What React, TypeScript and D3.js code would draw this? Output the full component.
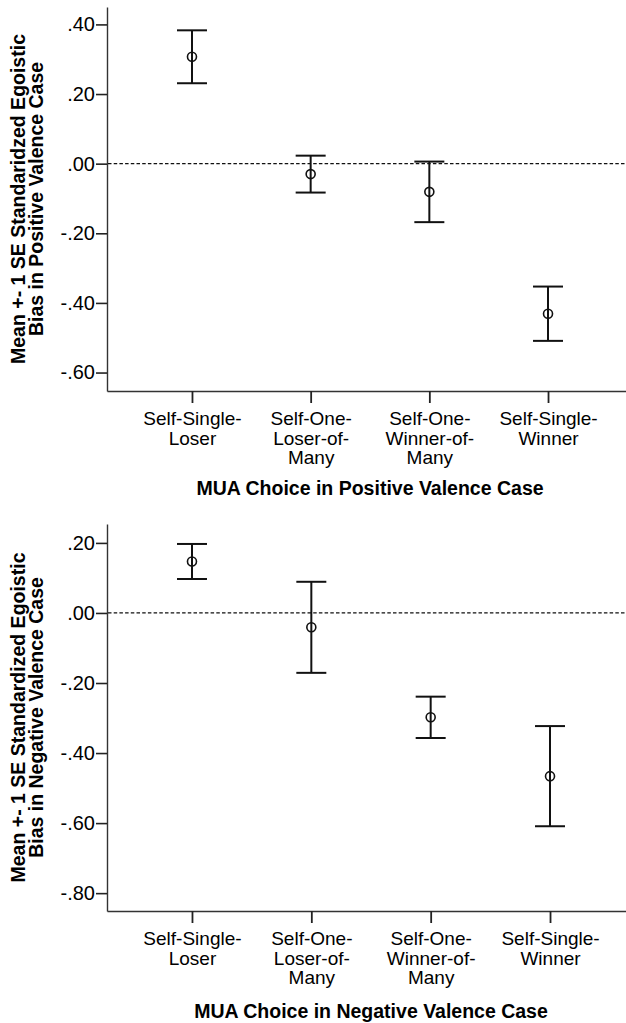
import React, { useEffect, useRef } from "react";
import * as d3 from "d3";

// categories on the x axis (same for both panels)
const categories = [
  "Self-Single-Loser",
  "Self-One-Loser-of-Many",
  "Self-One-Winner-of-Many",
  "Self-Single-Winner",
];
const categoryLines = [
  ["Self-Single-", "Loser"],
  ["Self-One-", "Loser-of-", "Many"],
  ["Self-One-", "Winner-of-", "Many"],
  ["Self-Single-", "Winner"],
];

// positive valence panel
const positiveMeans = [0.307, -0.03, -0.081, -0.431];
const positiveSE = [0.076, 0.053, 0.087, 0.078];
const positiveTicks = [0.4, 0.2, 0, -0.2, -0.4, -0.6];
const positiveYTitle = ["Mean +- 1 SE Standaridzed Egoistic", "Bias in Positive Valence Case"];
const positiveXTitle = "MUA Choice in Positive Valence Case";

// negative valence panel
const negativeMeans = [0.147, -0.041, -0.298, -0.466];
const negativeSE = [0.05, 0.13, 0.059, 0.143];
const negativeTicks = [0.2, 0, -0.2, -0.4, -0.6, -0.8];
const negativeYTitle = ["Mean +- 1 SE Standardized Egoistic", "Bias in Negative Valence Case"];
const negativeXTitle = "MUA Choice in Negative Valence Case";

const FONT = "'Liberation Sans', Arial, sans-serif";

// ".40", "-.20", ".00"
const fmt = (v) => {
  const s = d3.format(".2f")(Math.abs(v)).replace(/^0/, "");
  return (v < -1e-9 ? "-" : "") + s;
};

const drawPanel = (svg, p) => {
  const g = svg.append("g");

  const y = d3.scaleLinear().domain(p.domain).range([p.bottom, p.top]);
  const x = d3.scalePoint().domain(categories).range([p.left, p.right]).padding(p.pad);

  // y axis
  const yAxis = g
    .append("g")
    .attr("transform", `translate(${p.left},0)`)
    .call(d3.axisLeft(y).tickValues(p.ticks).tickSize(11).tickSizeOuter(0).tickPadding(1).tickFormat(fmt));
  yAxis.select(".domain").attr("stroke", "#333").attr("stroke-width", 1.4);
  yAxis.selectAll(".tick line").attr("stroke", "#222").attr("stroke-width", 1.6);
  yAxis
    .selectAll(".tick text")
    .attr("font-family", FONT)
    .attr("font-size", 20)
    .attr("fill", "#000");

  // x axis
  const xAxis = g
    .append("g")
    .attr("transform", `translate(0,${p.bottom})`)
    .call(d3.axisBottom(x).tickSize(12).tickSizeOuter(0).tickFormat(() => ""));
  xAxis.select(".domain").attr("stroke", "#333").attr("stroke-width", 1.4);
  xAxis.selectAll(".tick line").attr("stroke", "#222").attr("stroke-width", 1.8);
  xAxis
    .selectAll(".tick")
    .append("text")
    .attr("font-family", FONT)
    .attr("font-size", 19)
    .attr("fill", "#000")
    .attr("text-anchor", "middle")
    .each(function (d, i) {
      const t = d3.select(this);
      categoryLines[i].forEach((line, j) => {
        t.append("tspan").attr("x", 0).attr("y", 34 + j * 19.5).text(line);
      });
    });

  // reference line at zero
  g.append("line")
    .attr("x1", p.left + 1)
    .attr("x2", p.right)
    .attr("y1", y(0))
    .attr("y2", y(0))
    .attr("stroke", "#111")
    .attr("stroke-width", 1.3)
    .attr("stroke-dasharray", "3.5,2.2");

  // error bars
  const bars = g
    .selectAll(".bar")
    .data(p.means.map((m, i) => ({ c: categories[i], m, se: p.se[i] })))
    .join("g")
    .attr("class", "bar")
    .attr("stroke", "#111")
    .attr("fill", "none");
  bars
    .append("line")
    .attr("x1", (d) => x(d.c))
    .attr("x2", (d) => x(d.c))
    .attr("y1", (d) => y(d.m + d.se))
    .attr("y2", (d) => y(d.m - d.se))
    .attr("stroke-width", 2);
  [1, -1].forEach((s) => {
    bars
      .append("line")
      .attr("x1", (d) => x(d.c) - 15)
      .attr("x2", (d) => x(d.c) + 15)
      .attr("y1", (d) => y(d.m + s * d.se))
      .attr("y2", (d) => y(d.m + s * d.se))
      .attr("stroke-width", 2);
  });
  bars
    .append("circle")
    .attr("cx", (d) => x(d.c))
    .attr("cy", (d) => y(d.m))
    .attr("r", 4.5)
    .attr("stroke-width", 1.6);

  // axis titles
  const midY = (p.top + p.bottom) / 2;
  p.yTitle.forEach((line, j) => {
    g.append("text")
      .attr("transform", `translate(${25 + j * 18},${midY}) rotate(-90)`)
      .attr("text-anchor", "middle")
      .attr("font-family", FONT)
      .attr("font-weight", "bold")
      .attr("font-size", 19.5)
      .attr("fill", "#000")
      .text(line);
  });
  g.append("text")
    .attr("x", (p.left + p.right) / 2)
    .attr("y", p.bottom + p.titleGap)
    .attr("text-anchor", "middle")
    .attr("font-family", FONT)
    .attr("font-weight", "bold")
    .attr("font-size", 19.5)
    .attr("fill", "#000")
    .text(p.xTitle);
};

const App = () => {
  const svgRef = useRef(null);

  useEffect(() => {
    const svg = d3.select(svgRef.current);
    svg.selectAll("*").remove();
    drawPanel(svg, {
      top: 7,
      bottom: 391,
      left: 107,
      right: 633,
      pad: 0.716,
      domain: [-0.653, 0.45],
      means: positiveMeans,
      se: positiveSE,
      ticks: positiveTicks,
      yTitle: positiveYTitle,
      xTitle: positiveXTitle,
      titleGap: 104,
    });
    drawPanel(svg, {
      top: 524,
      bottom: 911,
      left: 107,
      right: 635,
      pad: 0.712,
      domain: [-0.851, 0.254],
      means: negativeMeans,
      se: negativeSE,
      ticks: negativeTicks,
      yTitle: negativeYTitle,
      xTitle: negativeXTitle,
      titleGap: 107,
    });
  }, []);

  return (
    <svg
      ref={svgRef}
      width={626}
      height={1023}
      style={{ position: "absolute", left: 0, top: 0, display: "block", background: "#fff" }}
    />
  );
};

export default App;
